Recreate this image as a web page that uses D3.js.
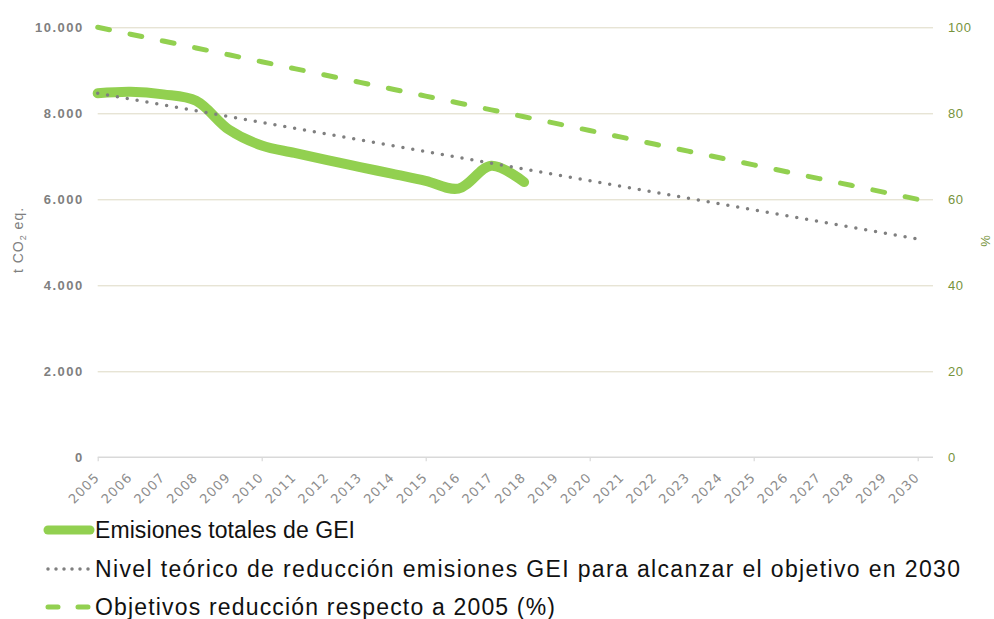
<!DOCTYPE html>
<html>
<head>
<meta charset="utf-8">
<script src="https://d3js.org/d3.v7.min.js"></script>
<style>
  body { margin: 0; background: #fff; }
  svg { font-family: "Liberation Sans", Arial, sans-serif; }
  .domain { display: none; }
  .y-left text { fill: #7f7f7f; font-size: 13px; font-weight: bold; letter-spacing: 1.5px; }
  .y-left .tick line { stroke: #ddd9c3; }
  .y-right text { fill: #77933c; font-size: 13px; letter-spacing: 0.6px; }
  .x-labels text { fill: #8c8c8c; font-size: 13px; font-family: "DejaVu Sans", sans-serif; letter-spacing: 1px; }
  .legend text { fill: #111; font-size: 23px; font-family: "Liberation Sans Narrow", "Liberation Sans", sans-serif; }
</style>
</head>
<body>
<svg width="994" height="619"></svg>
<script>
const years = [2005, 2006, 2007, 2008, 2009, 2010, 2011, 2012, 2013, 2014, 2015, 2016, 2017,
  2018, 2019, 2020, 2021, 2022, 2023, 2024, 2025, 2026, 2027, 2028, 2029, 2030];
const emisionesYears = [2005, 2006, 2007, 2008, 2009, 2010, 2011, 2012, 2013, 2014, 2015, 2016, 2017, 2018];
const emisiones = [8465, 8500, 8440, 8290, 7620, 7250, 7080, 6910, 6750, 6590, 6430, 6250, 6780, 6400];
const nivelTeorico = [8465, 8330, 8194, 8059, 7923, 7788, 7652, 7517, 7381, 7246, 7111, 6975, 6840,
  6704, 6569, 6433, 6298, 6162, 6027, 5892, 5756, 5621, 5485, 5350, 5214, 5079];
const objetivoPct = [100, 98.4, 96.8, 95.2, 93.6, 92, 90.4, 88.8, 87.2, 85.6, 84, 82.4, 80.8,
  79.2, 77.6, 76, 74.4, 72.8, 71.2, 69.6, 68, 66.4, 64.8, 63.2, 61.6, 60];
const leftTicks = [0, 2000, 4000, 6000, 8000, 10000];
const rightTicks = [0, 20, 40, 60, 80, 100];
const majorYears = [2005, 2010, 2015, 2020, 2025, 2030];
const legendLabels = [
  'Emisiones totales de GEI',
  'Nivel teórico de reducción emisiones GEI para alcanzar el objetivo en 2030',
  'Objetivos reducción respecto a 2005 (%)'
];

const green = '#92d050';
const gray = '#7f7f7f';
const plotLeft = 97.7, plotRight = 933, plotTop = 27.3, plotBottom = 457.3;

const svg = d3.select('svg');
const x = d3.scaleLinear().domain([2005, 2030]).range([plotLeft, 917.7]);
const y = d3.scaleLinear().domain([0, 10000]).range([plotBottom, plotTop]);
const yPct = d3.scaleLinear().domain([0, 100]).range([plotBottom, plotTop]);

const es = d3.formatLocale({ decimal: ',', thousands: '.', grouping: [3], currency: ['', '€'] });

// left axis + gridlines
svg.append('g')
    .attr('class', 'y-left')
    .attr('transform', `translate(${plotLeft},0)`)
    .call(d3.axisLeft(y)
      .tickValues(leftTicks)
      .tickSize(-(plotRight - plotLeft))
      .tickPadding(14)
      .tickFormat(es.format(',')))
    .call(g => g.selectAll('.tick').filter(d => d === 0).select('line').remove());

// right axis
svg.append('g')
    .attr('class', 'y-right')
    .attr('transform', `translate(${plotRight},0)`)
    .call(d3.axisRight(yPct).tickValues(rightTicks).tickSize(0).tickPadding(15));

// x axis line and ticks
const xAxisG = svg.append('g').attr('transform', `translate(0,${plotBottom})`);
xAxisG.append('line')
    .attr('x1', plotLeft).attr('x2', plotRight)
    .attr('stroke', '#d9d9d9').attr('stroke-width', 1.5);
xAxisG.append('g')
    .call(d3.axisBottom(x).tickValues(majorYears).tickSize(4).tickFormat(''))
    .call(g => g.selectAll('line').attr('stroke', '#d9d9d9').attr('stroke-width', 1.2));
xAxisG.append('g')
    .attr('class', 'x-labels')
    .call(d3.axisBottom(x).tickValues(years).tickSize(0).tickFormat(d3.format('d')))
    .call(g => g.selectAll('text')
      .attr('y', 0).attr('dy', 0)
      .attr('text-anchor', 'end')
      .attr('transform', 'translate(2,21) rotate(-45)'));

// axis titles
const yTitle = svg.append('text')
    .attr('transform', 'translate(23,240) rotate(-90)')
    .attr('text-anchor', 'middle')
    .attr('fill', gray)
    .style('font-size', '14px')
    .style('letter-spacing', '1px');
yTitle.append('tspan').text('t CO');
yTitle.append('tspan').text('2').style('font-size', '9px').attr('dy', 3);
yTitle.append('tspan').text(' eq.').attr('dy', -3);

svg.append('text')
    .attr('transform', 'translate(990,241) rotate(-90)')
    .attr('text-anchor', 'middle')
    .attr('fill', '#77933c')
    .style('font-size', '13px')
    .text('%');

// series
const emisLine = d3.line()
    .x((d, i) => x(emisionesYears[i]))
    .y(d => y(d))
    .curve(d3.curveCatmullRom.alpha(0.5));
svg.append('path')
    .datum(emisiones)
    .attr('d', emisLine)
    .attr('fill', 'none')
    .attr('stroke', green)
    .attr('stroke-width', 10)
    .attr('stroke-linecap', 'round')
    .attr('stroke-linejoin', 'round');

const teoLine = d3.line().x((d, i) => x(years[i])).y(d => y(d));
svg.append('path')
    .datum(nivelTeorico)
    .attr('d', teoLine)
    .attr('fill', 'none')
    .attr('stroke', gray)
    .attr('stroke-width', 3.5)
    .attr('stroke-dasharray', '0 10')
    .attr('stroke-linecap', 'round');

const pctLine = d3.line().x((d, i) => x(years[i])).y(d => yPct(d));
svg.append('path')
    .datum(objetivoPct)
    .attr('d', pctLine)
    .attr('fill', 'none')
    .attr('stroke', green)
    .attr('stroke-width', 5)
    .attr('stroke-dasharray', '12 21')
    .attr('stroke-linecap', 'round');

// legend
const legend = svg.append('g').attr('class', 'legend');
const legendY = [530, 569, 607];
const legendW = [260, 865, 460];
const swatches = [
  { w: 9, dash: null },
  { w: 3.5, dash: '0 8', color: gray },
  { w: 5, dash: '10 20' }
];
legendLabels.forEach((label, i) => {
  const g = legend.append('g').attr('transform', `translate(0,${legendY[i]})`);
  const s = swatches[i];
  g.append('line')
      .attr('x1', 48).attr('x2', 90)
      .attr('stroke', s.color || green)
      .attr('stroke-width', s.w)
      .attr('stroke-linecap', 'round')
      .attr('stroke-dasharray', s.dash);
  g.append('text')
      .attr('x', 95).attr('y', 8)
      .attr('textLength', legendW[i])
      .attr('lengthAdjust', 'spacing')
      .text(label);
});
</script>
</body>
</html>
